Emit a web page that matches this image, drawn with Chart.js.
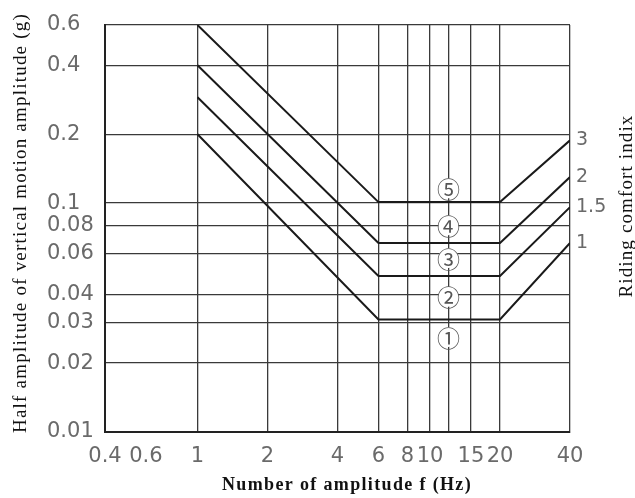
<!DOCTYPE html>
<html>
<head>
<meta charset="utf-8">
<script src="https://cdn.jsdelivr.net/npm/chart.js@4.4.0/dist/chart.umd.min.js"></script>
<style>
  html, body { margin: 0; padding: 0; background: #fff; }
  #wrap { width: 635px; height: 498px; }
</style>
</head>
<body>
<div id="wrap"><canvas id="chart" width="635" height="498"></canvas></div>
<script>
// frequency break points (Hz) shared by all curves
const freqs = [1, 6, 20, 40];
// half amplitude (g) of each riding comfort curve
const index1 = [0.2, 0.031, 0.031, 0.067];
const index15 = [0.29, 0.048, 0.048, 0.096];
const index2 = [0.4, 0.067, 0.067, 0.13];
const index3 = [0.6, 0.101, 0.101, 0.188];
const comfortLabels = ['1', '1.5', '2', '3'];

const xTicks = [0.4, 0.6, 1, 2, 4, 6, 8, 10, 12, 15, 20, 40];
const xTickLabels = ['0.4', '0.6', '1', '2', '4', '6', '8', '10', '', '15', '20', '40'];
const yTicks = [0.01, 0.02, 0.03, 0.04, 0.06, 0.08, 0.1, 0.2, 0.4, 0.6];
const yTickLabels = ['0.01', '0.02', '0.03', '0.04', '0.06', '0.08', '0.1', '0.2', '0.4', '0.6'];

// circled zone numbers sit on the 12 Hz line
const zoneFreq = 12;
const zoneLevels = [0.026, 0.039, 0.0575, 0.08, 0.116];
const zoneLabels = ['①', '②', '③', '④', '⑤'];

const series = [index1, index15, index2, index3];
const tickFont = { family: 'DejaVu Sans', size: 21 };
const gridCol = '#3a3a3a';

function fitText(ctx, text, x, y, rot, width, font) {
    ctx.save();
    ctx.font = font;
    ctx.letterSpacing = '0px';
    const w = ctx.measureText(text).width;
    ctx.letterSpacing = ((width - w) / text.length) + 'px';
    ctx.translate(x, y);
    ctx.rotate(rot);
    ctx.fillStyle = '#111';
    ctx.textAlign = 'center';
    ctx.textBaseline = 'middle';
    ctx.fillText(text, 0, 0);
    ctx.restore();
}

const extras = {
    id: 'extras',
    afterDatasetsDraw(chart) {
        const ctx = chart.ctx;
        const xs = chart.scales.x, ys = chart.scales.y;
        ctx.save();
        ctx.font = '23px "Noto Sans CJK JP"';
        ctx.textAlign = 'center';
        ctx.textBaseline = 'middle';
        zoneLevels.forEach((v, i) => {
            const px = xs.getPixelForValue(zoneFreq);
            const py = ys.getPixelForValue(v);
            ctx.fillStyle = '#fff';
            ctx.beginPath();
            ctx.arc(px, py, 10, 0, Math.PI * 2);
            ctx.fill();
            ctx.fillStyle = '#555';
            ctx.fillText(zoneLabels[i], px, py + 1);
        });
        ctx.restore();
    },
    afterDraw(chart) {
        const ctx = chart.ctx;
        fitText(ctx, 'Half amplitude of vertical motion amplitude (g)', 21, 223, -Math.PI / 2, 420, '19px "Liberation Serif"');
        fitText(ctx, 'Riding comfort indix', 627, 206, -Math.PI / 2, 183, '19px "Liberation Serif"');
        fitText(ctx, 'Number of amplitude f (Hz)', 347, 485, 0, 250, 'bold 18px "Liberation Serif"');
    }
};

const ctx = document.getElementById('chart').getContext('2d');
new Chart(ctx, {
    type: 'line',
    data: {
        datasets: series.map(s => ({
            data: freqs.map((f, i) => ({ x: f, y: s[i] })),
            borderColor: '#1a1a1a',
            borderWidth: 2,
            pointRadius: 0,
            fill: false,
            tension: 0
        }))
    },
    options: {
        responsive: false,
        animation: false,
        layout: { padding: { left: 47, top: 25, right: 0, bottom: 0 } },
        plugins: { legend: { display: false }, tooltip: { enabled: false } },
        scales: {
            x: {
                type: 'logarithmic',
                min: 0.4,
                max: 40,
                afterBuildTicks: s => { s.ticks = xTicks.map(v => ({ value: v })); },
                afterFit: s => { s.height = 66; },
                grid: {
                    color: c => (c.tick && c.tick.value === 0.6) ? 'rgba(0,0,0,0)' : gridCol,
                    lineWidth: 1.3,
                    drawTicks: false
                },
                border: { color: '#222', width: 2 },
                ticks: {
                    autoSkip: false,
                    maxRotation: 0,
                    padding: 12,
                    color: '#6a6a6a',
                    font: tickFont,
                    callback: (v, i) => xTickLabels[i]
                }
            },
            y: {
                type: 'logarithmic',
                min: 0.01,
                max: 0.6,
                afterBuildTicks: s => { s.ticks = yTicks.map(v => ({ value: v })); },
                afterFit: s => { s.width = 58; },
                grid: { color: gridCol, lineWidth: 1.3, drawTicks: false },
                border: { color: '#222', width: 2 },
                ticks: {
                    autoSkip: false,
                    crossAlign: 'far',
                    color: '#6a6a6a',
                    font: tickFont,
                    callback: (v, i) => yTickLabels[i]
                }
            },
            y2: {
                type: 'logarithmic',
                position: 'right',
                min: 0.01,
                max: 0.6,
                afterBuildTicks: s => { s.ticks = series.map(a => ({ value: a[a.length - 1] })); },
                afterFit: s => { s.width = 65; },
                grid: { display: false, drawTicks: false },
                border: { display: false },
                ticks: {
                    autoSkip: false,
                    padding: 6,
                    color: '#6a6a6a',
                    font: { family: 'DejaVu Sans', size: 19 },
                    callback: (v, i) => comfortLabels[i]
                }
            }
        }
    },
    plugins: [extras]
});
</script>
</body>
</html>
